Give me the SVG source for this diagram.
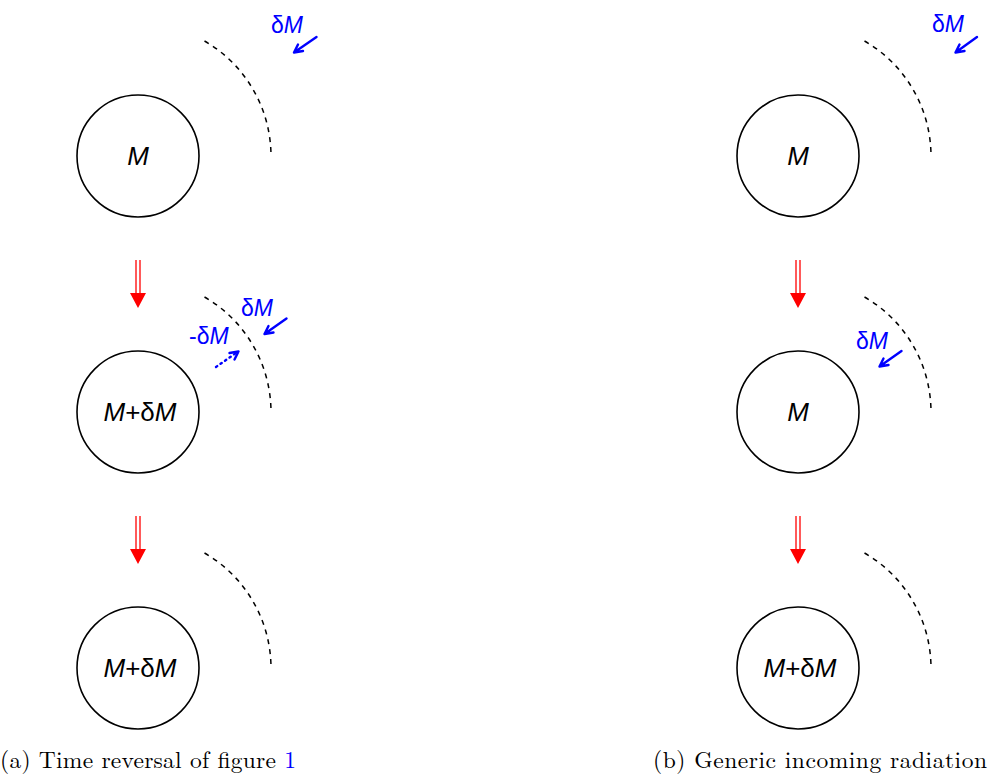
<svg xmlns="http://www.w3.org/2000/svg" width="988" height="778" viewBox="0 0 988 778">
<style>
.node{fill:none;stroke:#000;stroke-width:1.6}
.arc{fill:none;stroke:#000;stroke-width:1.5;stroke-dasharray:5,5}
.lbl{font-family:"Liberation Sans",Arial,sans-serif;font-size:26px;text-anchor:middle}
.it{font-style:italic}
.blue{font-family:"Liberation Sans",Arial,sans-serif;font-size:23px;fill:#0000ff}
.barr{fill:none;stroke:#0000ff;stroke-width:2.4;stroke-linecap:round;stroke-linejoin:round}
.dot{stroke-dasharray:1.5,4}
.rl{stroke:#ff0000;stroke-width:1.3;fill:none}
.cap{font-family:"Latin Modern Roman","Liberation Serif",serif;font-size:23.5px;fill:#000}
</style>
<defs>
<g id="red">
<line class="rl" x1="-2" y1="0" x2="-2" y2="34"/>
<line class="rl" x1="2" y1="0" x2="2" y2="34"/>
<polygon points="-8,33 8,33 0,48" fill="#ff0000"/>
</g>
</defs>

<g id="nodeA1"><circle class="node" cx="138" cy="156" r="61"/><text class="lbl" x="138" y="165"><tspan class="it">M</tspan></text></g>
<g id="nodeA2"><circle class="node" cx="138" cy="412" r="61"/><text class="lbl" x="140" y="421"><tspan class="it">M</tspan>+δ<tspan class="it">M</tspan></text></g>
<g id="nodeA3"><circle class="node" cx="138" cy="668" r="61"/><text class="lbl" x="140" y="677"><tspan class="it">M</tspan>+δ<tspan class="it">M</tspan></text></g>
<g id="nodeB1"><circle class="node" cx="798" cy="156" r="61"/><text class="lbl" x="798" y="165"><tspan class="it">M</tspan></text></g>
<g id="nodeB2"><circle class="node" cx="798" cy="412" r="61"/><text class="lbl" x="798" y="421"><tspan class="it">M</tspan></text></g>
<g id="nodeB3"><circle class="node" cx="798" cy="668" r="61"/><text class="lbl" x="800" y="677"><tspan class="it">M</tspan>+δ<tspan class="it">M</tspan></text></g>

<g id="shells">
<path class="arc" d="M204.5,41 A133,133 0 0 1 271,156"/>
<path class="arc" d="M204.5,297 A133,133 0 0 1 271,412"/>
<path class="arc" d="M204.5,553 A133,133 0 0 1 271,668"/>
<path class="arc" d="M864.5,41 A133,133 0 0 1 931,156"/>
<path class="arc" d="M864.5,297 A133,133 0 0 1 931,412"/>
<path class="arc" d="M864.5,553 A133,133 0 0 1 931,668"/>
</g>

<g id="connectors">
<use href="#red" x="138" y="260"/>
<use href="#red" x="138" y="516"/>
<use href="#red" x="798" y="260"/>
<use href="#red" x="798" y="516"/>

<path class="barr" d="M316.5,37 L294,52.5 M294,52.5 L303,51 M294,52.5 L298,44.5"/>
<path class="barr" d="M286.5,318.5 L264.5,334 M264.5,334 L273.5,332.5 M264.5,334 L268.5,326"/>
<path class="barr dot" d="M216,367 L236,353"/>
<path class="barr" d="M238.5,351.5 L229.5,353 M238.5,351.5 L234.5,359.5"/>
<path class="barr" d="M977,37 L955.5,52.5 M955.5,52.5 L964.5,51 M955.5,52.5 L959.5,44.5"/>
<path class="barr" d="M901.5,351 L879.5,366.5 M879.5,366.5 L888.5,365 M879.5,366.5 L883.5,358.5"/>
</g>

<g id="labels">
<text class="blue" x="271" y="33">δ<tspan class="it">M</tspan></text>
<text class="blue" x="241" y="316">δ<tspan class="it">M</tspan></text>
<text class="blue" x="189" y="344">-δ<tspan class="it">M</tspan></text>
<text class="blue" x="932" y="32">δ<tspan class="it">M</tspan></text>
<text class="blue" x="856" y="349">δ<tspan class="it">M</tspan></text>
<text class="cap" x="0" y="768" textLength="296" lengthAdjust="spacing">(a)  Time reversal of figure <tspan fill="#0000ff">1</tspan></text>
<text class="cap" x="653" y="768" textLength="334" lengthAdjust="spacing">(b)  Generic incoming radiation</text>
</g>
</svg>
